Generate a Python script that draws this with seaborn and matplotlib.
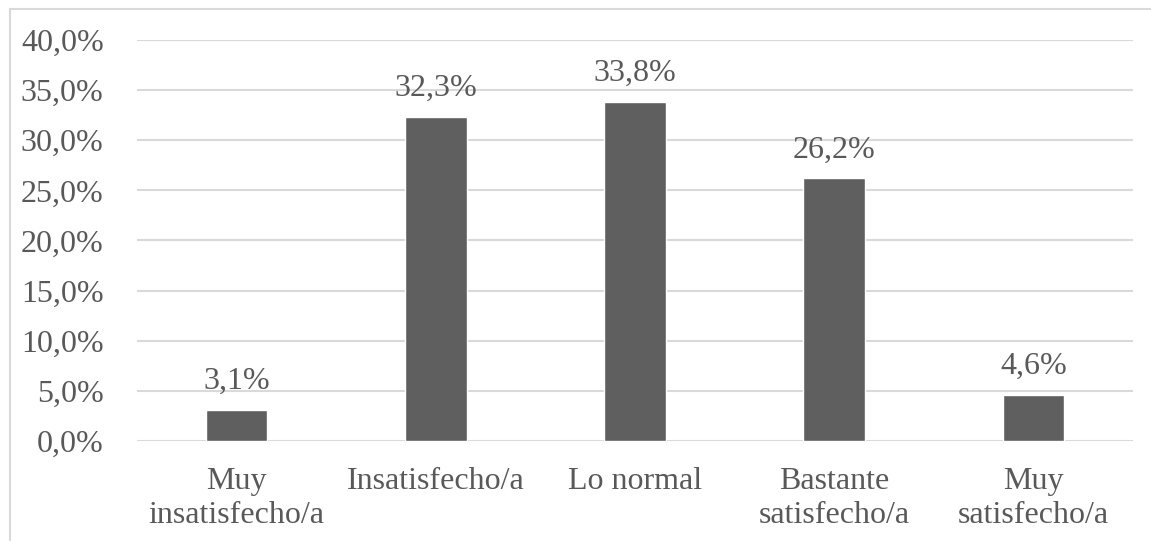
import matplotlib
matplotlib.use("Agg")
import matplotlib.pyplot as plt
from matplotlib.patches import Rectangle
from matplotlib.ticker import FuncFormatter
import seaborn as sns
import pandas as pd

categories = ["Muy\ninsatisfecho/a", "Insatisfecho/a", "Lo normal",
              "Bastante\nsatisfecho/a", "Muy\nsatisfecho/a"]
values = [3.1, 32.3, 33.8, 26.2, 4.6]
y_ticks = [0, 5, 10, 15, 20, 25, 30, 35, 40]

sns.set_theme(style="white")
plt.rcParams["font.family"] = ["Liberation Serif", "DejaVu Serif"]

TEXT = "#595959"
BAR = "#5f5f5f"
GRID = "#d9d9d9"
FS = 23

W, H = 1151, 541
fig = plt.figure(figsize=(W / 100, H / 100), dpi=100)
ax = fig.add_axes([137 / W, 1 - 441 / H, (1133 - 137) / W, (441 - 40) / H])

df = pd.DataFrame({"cat": categories, "val": values})
sns.barplot(data=df, x="cat", y="val", color=BAR, saturation=1,
            width=0.31, ax=ax, zorder=3)

ax.set_ylim(0, 40)
ax.set_xlim(-0.5, len(categories) - 0.5)
ax.set_yticks(y_ticks)
ax.yaxis.set_major_formatter(FuncFormatter(lambda v, _: f"{v:.1f}%".replace(".", ",")))
ax.grid(axis="y", color=GRID, linewidth=1.5, zorder=0)
ax.grid(axis="x", visible=False)
for s in ax.spines.values():
    s.set_visible(False)
ax.set_xlabel("")
ax.set_ylabel("")
ax.tick_params(axis="y", length=0, pad=24, labelsize=FS, labelcolor=TEXT)
ax.tick_params(axis="x", length=0, pad=19, labelsize=FS, labelcolor=TEXT)
for lbl in ax.get_xticklabels():
    lbl.set_linespacing(1.2)

for i, v in enumerate(values):
    ax.annotate(f"{v:.1f}%".replace(".", ","), (i, v), xytext=(0, 10),
                textcoords="offset points", ha="center", va="bottom",
                fontsize=FS, color=TEXT)

# chart frame, open to the right and bottom
fig.patches.append(Rectangle((10 / W, -0.1), 1.2, 1 - 9 / H + 0.1,
                             transform=fig.transFigure, fill=False,
                             edgecolor=GRID, linewidth=1.5, clip_on=False))

fig.savefig("out.png", dpi=100, facecolor="white")
